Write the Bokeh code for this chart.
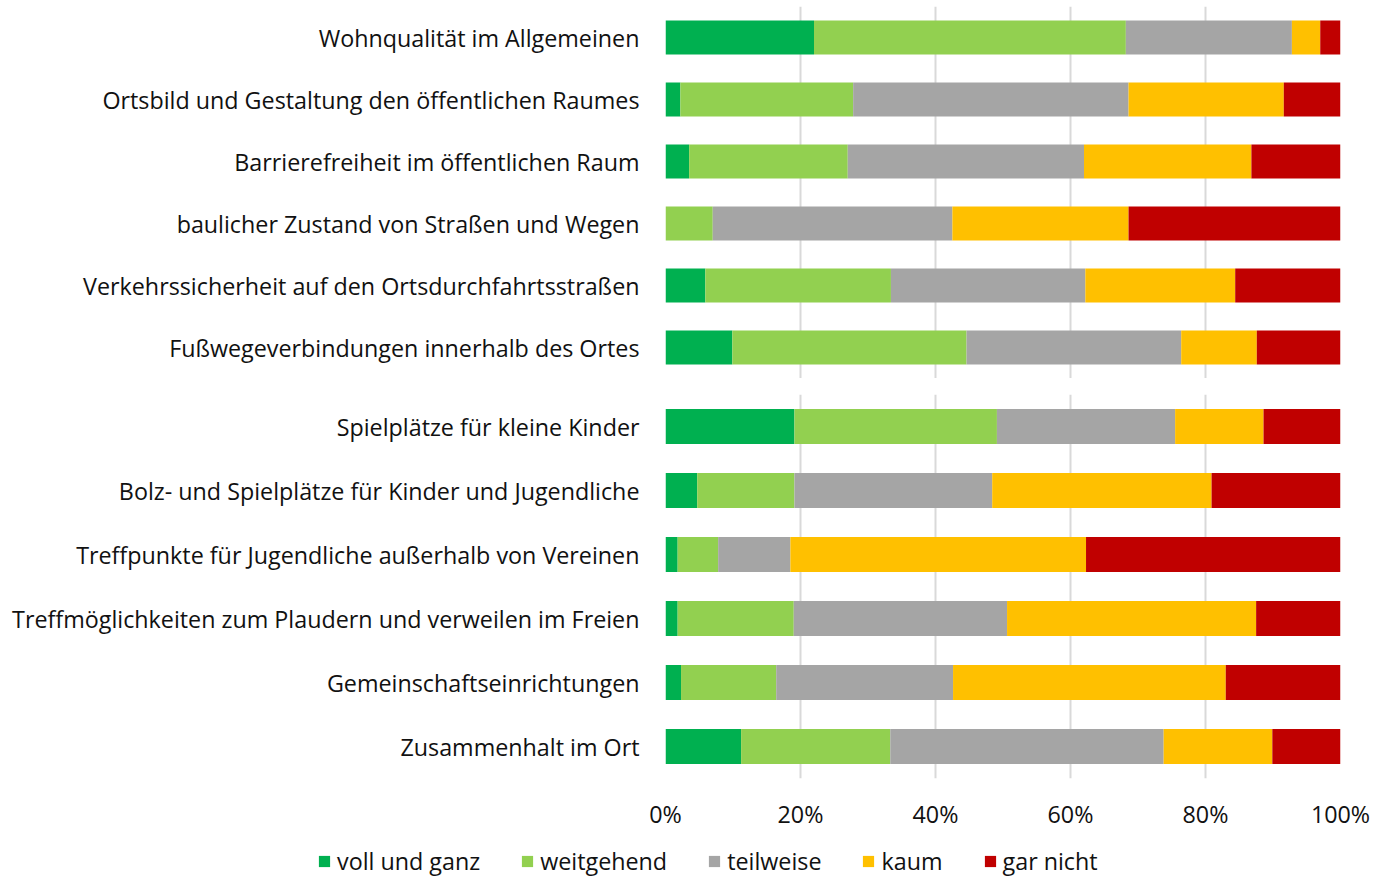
from bokeh.plotting import figure
from bokeh.models import ColumnDataSource, FactorRange, Range1d, FixedTicker, Legend, LegendItem, NumeralTickFormatter
from bokeh.layouts import column
from bokeh.embed import file_html
from bokeh.resources import INLINE

# ---- data ----
series = ["voll und ganz", "weitgehend", "teilweise", "kaum", "gar nicht"]
colors = ["#00B050", "#92D050", "#A5A5A5", "#FFC000", "#C00000"]

cats_top = [
    "Wohnqualität im Allgemeinen",
    "Ortsbild und Gestaltung den öffentlichen Raumes",
    "Barrierefreiheit im öffentlichen Raum",
    "baulicher Zustand von Straßen und Wegen",
    "Verkehrssicherheit auf den Ortsdurchfahrtsstraßen",
    "Fußwegeverbindungen innerhalb des Ortes",
]
top_voll = [22.0, 2.2, 3.5, 0.0, 5.9, 9.9]
top_weit = [46.2, 25.6, 23.5, 7.0, 27.5, 34.7]
top_teil = [24.6, 40.8, 35.0, 35.5, 28.8, 31.8]
top_kaum = [4.2, 23.0, 24.8, 26.1, 22.2, 11.2]
top_gar = [3.0, 8.4, 13.2, 31.4, 15.6, 12.4]

cats_bot = [
    "Spielplätze für kleine Kinder",
    "Bolz- und Spielplätze für Kinder und Jugendliche",
    "Treffpunkte für Jugendliche außerhalb von Vereinen",
    "Treffmöglichkeiten zum Plaudern und verweilen im Freien",
    "Gemeinschaftseinrichtungen",
    "Zusammenhalt im Ort",
]
bot_voll = [19.1, 4.7, 1.8, 1.8, 2.3, 11.2]
bot_weit = [30.0, 14.4, 6.0, 17.2, 14.1, 22.1]
bot_teil = [26.4, 29.3, 10.7, 31.6, 26.2, 40.5]
bot_kaum = [13.1, 32.5, 43.8, 36.9, 40.4, 16.1]
bot_gar = [11.4, 19.1, 37.7, 12.5, 17.0, 10.1]

x_ticks = [0, 0.2, 0.4, 0.6, 0.8, 1.0]

FONT = "Open Sans"
FSIZE = "23.3px"
TXT = "#111111"


def make_source(cats, vals):
    d = {"cat": cats}
    for name, v in zip(series, vals):
        d[name] = [x / 100.0 for x in v]
    return ColumnDataSource(d)


def make_fig(cats, vals, height, border_top, border_bottom, show_axis):
    p = figure(
        y_range=FactorRange(factors=list(reversed(cats)), range_padding=0),
        x_range=Range1d(0, 1),
        width=1374, height=height,
        output_backend="svg", toolbar_location=None,
        min_border_left=665, min_border_right=34,
        min_border_top=border_top, min_border_bottom=border_bottom,
    )
    src = make_source(cats, vals)
    rs = p.hbar_stack(series, y="cat", height=0.55, color=colors, source=src,
                      line_color=None)
    p.outline_line_color = None
    p.ygrid.grid_line_color = None
    p.xgrid.ticker = FixedTicker(ticks=x_ticks)
    p.xgrid.grid_line_color = "#d9d9d9"
    p.xgrid.grid_line_width = 2
    p.yaxis.axis_line_color = None
    p.yaxis.major_tick_line_color = None
    p.yaxis.minor_tick_line_color = None
    p.yaxis.major_label_standoff = 20
    p.yaxis.major_label_text_font = FONT
    p.yaxis.major_label_text_font_size = FSIZE
    p.yaxis.major_label_text_color = TXT
    p.xaxis.ticker = FixedTicker(ticks=x_ticks)
    p.xaxis.formatter = NumeralTickFormatter(format="0%")
    p.xaxis.axis_line_color = None
    p.xaxis.major_tick_line_color = None
    p.xaxis.minor_tick_line_color = None
    p.xaxis.major_label_standoff = 13
    p.xaxis.major_label_text_font = FONT
    p.xaxis.major_label_text_font_size = FSIZE
    p.xaxis.major_label_text_color = TXT
    if not show_axis:
        p.xaxis.visible = False
    return p, rs


p1, _ = make_fig(cats_top, [top_voll, top_weit, top_teil, top_kaum, top_gar],
                 378, 6, 0, False)
p2, _ = make_fig(cats_bot, [bot_voll, bot_weit, bot_teil, bot_kaum, bot_gar],
                 454, 16, 53, True)

# legend strip: same stacked series, renderers hidden, only the legend is shown
p3 = figure(width=1374, height=45,
            y_range=FactorRange(factors=list(reversed(cats_bot))),
            x_range=Range1d(0, 1),
            output_backend="svg", toolbar_location=None,
            x_axis_location=None, y_axis_location=None,
            min_border=0)
p3.frame_align = False
p3.outline_line_color = None
p3.grid.visible = False
rs3 = p3.hbar_stack(series, y="cat", height=0.55, color=colors,
                    source=make_source(cats_bot, [bot_voll, bot_weit, bot_teil, bot_kaum, bot_gar]),
                    line_color=None)
for r in rs3:
    r.visible = False

legend = Legend(
    items=[LegendItem(label=s, renderers=[r]) for s, r in zip(series, rs3)],
    orientation="horizontal",
    location=(317, 0),
    glyph_width=14, glyph_height=14,
    label_standoff=6, spacing=40, padding=0, margin=0,
    label_text_font=FONT, label_text_font_size=FSIZE, label_text_color=TXT,
    border_line_color=None, background_fill_alpha=0,
    inactive_fill_alpha=0,
)
p3.add_layout(legend, "center")

layout = column(p1, p2, p3, spacing=0)
open("out.html", "w").write(file_html(layout, INLINE))
